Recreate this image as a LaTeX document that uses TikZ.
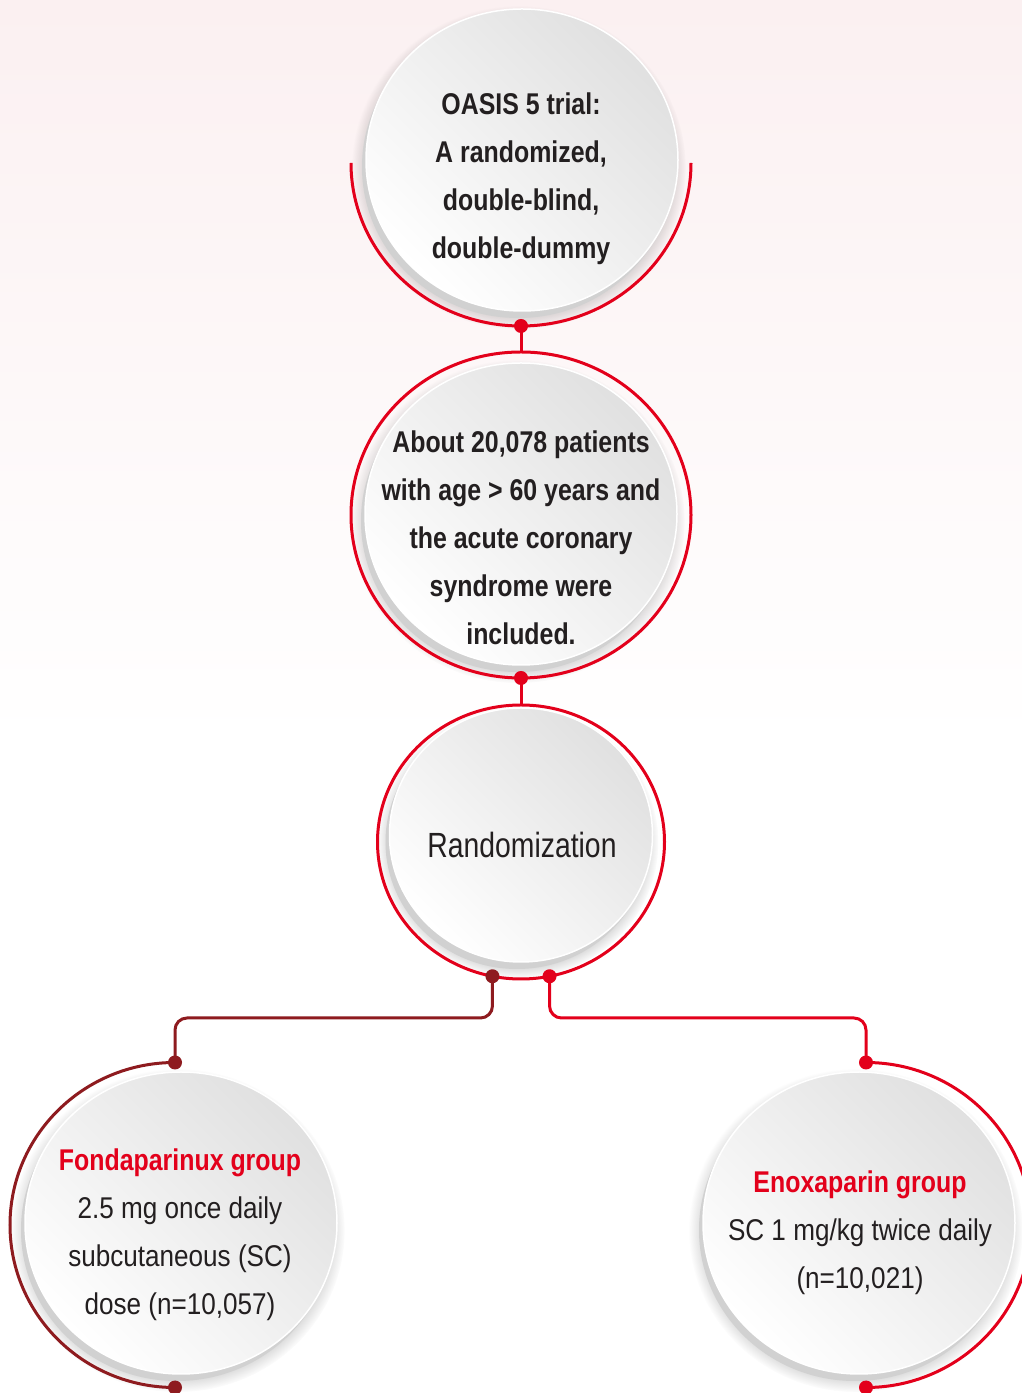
\documentclass[tikz,border=0pt]{standalone}
\usepackage{fontspec}
\setmainfont{Liberation Sans}[UprightFeatures={FakeStretch=0.87}, BoldFeatures={FakeStretch=0.83}]
\newfontfamily\randfont{Liberation Sans}[FakeStretch=0.81]
\usetikzlibrary{shapes.geometric, shadows, positioning}
\definecolor{oasisred}{RGB}{227,0,27}
\definecolor{oasisdark}{RGB}{142,27,31}
\definecolor{oasisink}{RGB}{35,31,32}
\definecolor{oasispink}{RGB}{251,240,241}

\begin{document}
\begin{tikzpicture}[
  x=1pt, y=1pt,
  disk/.style={ellipse, minimum width=312pt, minimum height=302pt, inner sep=0pt, outer sep=0pt,
               draw=white, line width=1.5pt,
               top color=black!12, bottom color=white, shading angle=-45,
               circular drop shadow={shadow xshift=-3pt, shadow yshift=-7pt, shadow scale=1.07,
                                     fill=black, opacity=.25},
               drop shadow={shadow xshift=-4pt, shadow yshift=-7pt, fill=black!18, opacity=1}},
  smalldisk/.style={disk, minimum width=263pt, minimum height=254pt},
  ring/.style={ellipse, minimum width=340pt, minimum height=326pt, inner sep=0pt, outer sep=0pt,
               line width=3pt},
  ringline/.style={line width=3pt, #1},
  link/.style={line width=3pt, rounded corners=12pt, #1},
  body/.style={align=center, text=oasisink, font=\fontsize{30}{48}\selectfont},
  heavy/.style={body, font=\fontsize{30}{48}\selectfont\bfseries}
]

\useasboundingbox (0,0) rectangle (1022,1393);
\fill[white] (0,0) rectangle (1022,1393);
\shade[top color=oasispink, bottom color=white] (0,650) rectangle (1022,1393);

\node[disk]      (trialdisk)   at (522,1233) {};
\node[disk]      (patientdisk) at (521,879)  {};
\node[smalldisk] (randdisk)    at (521,558)  {};
\node[disk]      (fondadisk)   at (181,170)  {};
\node[disk]      (enoxdisk)    at (859,170)  {};

\node[ring]                                      (trialring)   at (521,1230) {};
\node[ring, draw=oasisred]                       (patientring) at (521,878)  {};
\node[ring, draw=oasisred, minimum width=287pt, minimum height=274pt] (randring) at (521,551) {};
\node[ring, minimum width=330pt, minimum height=325pt] (fondaring) at (175,168) {};
\node[ring, minimum width=330pt, minimum height=325pt] (enoxring)  at (866,168) {};

\draw[ringline=oasisred]  (trialring.west) arc[start angle=180, end angle=360, x radius=170pt, y radius=163pt];
\draw[ringline=oasisdark] (fondaring.north) arc[start angle=90, end angle=270, x radius=165pt, y radius=162.5pt];
\draw[ringline=oasisred]  (enoxring.north) arc[start angle=90, end angle=-90, x radius=165pt, y radius=162.5pt];

\coordinate (split) at (521,375);

\draw[link=oasisred]  (trialring.south) -- (patientring.north);
\draw[link=oasisred]  (patientring.south) -- (randring.north);
\draw[link=oasisdark] (randring.258) -- (randring.258 |- split) -| (fondaring.north);
\draw[link=oasisred]  (randring.282) -- (randring.282 |- split) -| (enoxring.north);

\fill[oasisred]  (trialring.south)   circle[radius=7pt];
\fill[oasisred]  (patientring.south) circle[radius=7pt];
\fill[oasisdark] (randring.258)      circle[radius=7pt];
\fill[oasisred]  (randring.282)      circle[radius=7pt];
\fill[oasisdark] (fondaring.north)   circle[radius=7pt];
\fill[oasisdark] (fondaring.south)   circle[radius=7pt];
\fill[oasisred]  (enoxring.north)    circle[radius=7pt];
\fill[oasisred]  (enoxring.south)    circle[radius=7pt];

\node[heavy] (trial)   at (521,1214) {OASIS 5 trial:\\A randomized,\\double-blind,\\double-dummy};
\node[heavy] (patient) at (521,855)  {About 20,078 patients\\with age > 60 years and\\the acute coronary\\syndrome were\\included.};
\node[body, font=\fontsize{35}{42}\randfont] (rand) at (522,548) {Randomization};
\node[body]  (fonda)   at (180,158)  {\textcolor{oasisred}{\bfseries Fondaparinux group}\\2.5 mg once daily\\subcutaneous (SC)\\dose (n=10,057)};
\node[body]  (enox)    at (860,160)  {\textcolor{oasisred}{\bfseries Enoxaparin group}\\SC 1 mg/kg twice daily\\(n=10,021)};

\end{tikzpicture}
\end{document}
